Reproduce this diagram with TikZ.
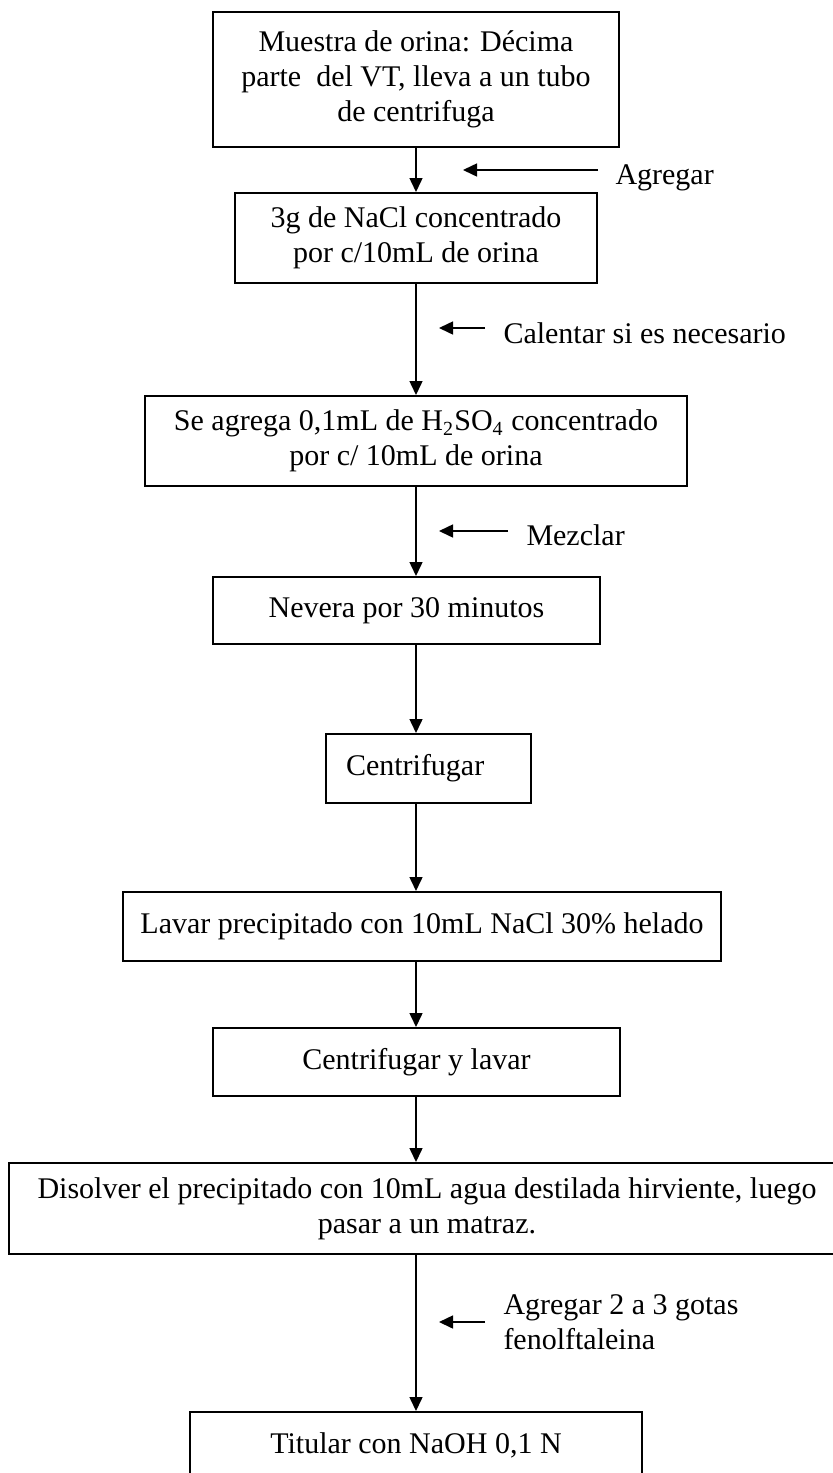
\documentclass[tikz,border=0pt]{standalone}
\usepackage{fontspec}
\setmainfont{Liberation Serif}
\usetikzlibrary{arrows.meta}
\def\px{0.4pt}
\tikzset{caja/.style 2 args={draw, line width=0.8pt, minimum width=#1*\px, minimum height=#2*\px, inner sep=0pt, align=center}}
\tikzset{flecha/.style={line width=0.6pt, -{Triangle[length=5.6pt, width=5.2pt]}}}
\tikzset{nota/.style={anchor=west, inner sep=0pt, align=left}}

\begin{document}
\begin{tikzpicture}[x=\px, y=-\px, font=\fontsize{12}{14}\selectfont]
\clip (0,0) rectangle (833,1473);
\coordinate (eje) at (416,0);

% pasos
\node[caja={406}{135}] (muestra) at (416,79.5) {Muestra de orina: Décima\\parte\ \ del VT, lleva a un tubo\\de centrifuga};
\node[caja={362}{90}] (nacl) at (416,238) {3g de NaCl concentrado\\por c/10mL de orina};
\node[caja={542}{90}] (acido) at (416,441) {Se agrega 0,1mL de H\textsubscript{2}SO\textsubscript{4} concentrado\\por c/ 10mL de orina};
\node[caja={387}{67}] (nevera) at (406.5,610.5) {Nevera por 30 minutos};
\node[caja={205}{69}, inner xsep=20*\px, text width=165*\px, align=left] (centri) at (428.5,768.5) {Centrifugar};
\node[caja={598}{69}] (lavar) at (422,926.5) {Lavar precipitado con 10mL NaCl 30\% helado};
\node[caja={407}{68}] (centrilav) at (416.5,1062) {Centrifugar y lavar};
\node[caja={836}{91}] (disolver) at (427,1208.5) {Disolver el precipitado con 10mL agua destilada hirviente, luego\\pasar a un matraz.};
\node[caja={452}{66}] (titular) at (416,1445) {Titular con NaOH 0,1 N};

\draw[flecha] (muestra.south -| eje) -- (nacl.north -| eje);
\draw[flecha] (nacl.south -| eje) -- (acido.north -| eje);
\draw[flecha] (acido.south -| eje) -- (nevera.north -| eje);
\draw[flecha] (nevera.south -| eje) -- (centri.north -| eje);
\draw[flecha] (centri.south -| eje) -- (lavar.north -| eje);
\draw[flecha] (lavar.south -| eje) -- (centrilav.north -| eje);
\draw[flecha] (centrilav.south -| eje) -- (disolver.north -| eje);
\draw[flecha] (disolver.south -| eje) -- (titular.north -| eje);

% agregados laterales
\node[nota] (agregar) at (615,178) {Agregar};
\coordinate (agrcola) at (598,170);
\coordinate (agrpunta) at (463,170);
\draw[flecha] (agrcola) -- (agrpunta);

\node[nota] (calentar) at (503,333) {Calentar si es necesario};
\coordinate (calcola) at (485,328);
\coordinate (calpunta) at (439,328);
\draw[flecha] (calcola) -- (calpunta);

\node[nota] (mezclar) at (526,535) {Mezclar};
\coordinate (mezcola) at (508,531);
\coordinate (mezpunta) at (439,531);
\draw[flecha] (mezcola) -- (mezpunta);

\node[nota] (gotas) at (503,1322) {Agregar 2 a 3 gotas\\fenolftaleina};
\coordinate (gotcola) at (485,1322);
\coordinate (gotpunta) at (439,1322);
\draw[flecha] (gotcola) -- (gotpunta);
\end{tikzpicture}
\end{document}
